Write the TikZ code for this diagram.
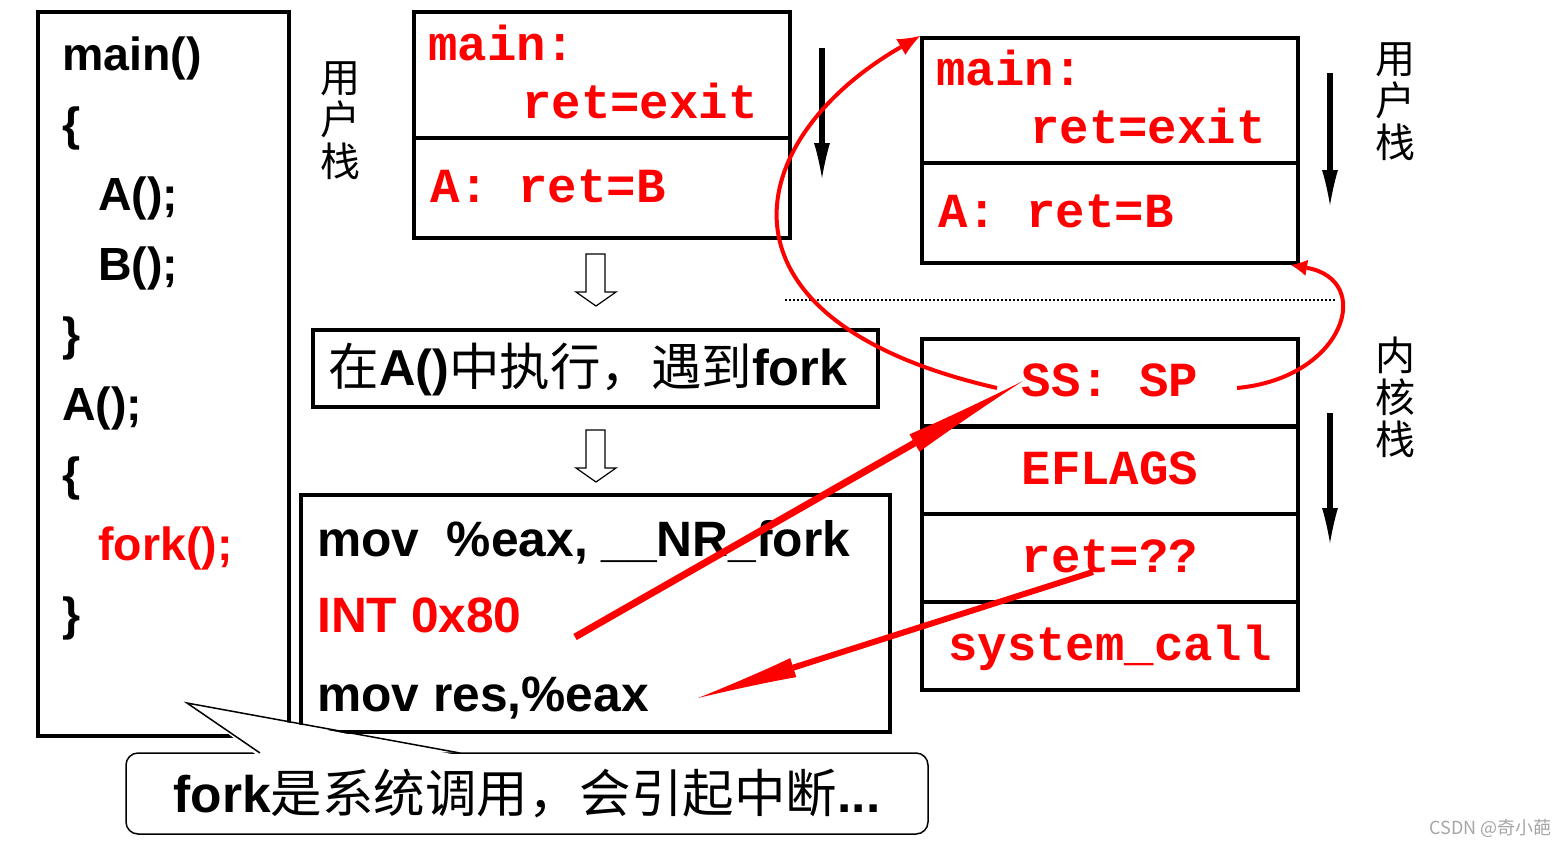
\documentclass[tikz,border=0pt]{standalone}
\usepackage{fontspec}
\setmainfont{Liberation Sans}
\newfontfamily\cjk{Noto Sans CJK SC}
\newfontfamily\monob{Liberation Mono}
\usepackage{tikz}
\usetikzlibrary{arrows.meta,positioning,calc}

\begin{document}
\begin{tikzpicture}[x=1pt, y=-1pt, every node/.style={inner sep=0pt},
  frame/.style={draw, line width=4pt},
  cell/.style={draw, line width=4pt, minimum width=376pt},
  src/.style={anchor=base west, font=\fontsize{46.5}{50}\selectfont\bfseries},
  asm/.style={anchor=base west, font=\fontsize{49.7}{55}\selectfont\bfseries},
  stk/.style={text=red, font=\fontsize{49}{55}\selectfont\monob\bfseries},
  vlabel/.style={align=center, font=\fontsize{40}{42}\selectfont\cjk},
  push/.style={line width=6pt, -{Latex[length=35pt,width=16pt,line width=0pt]}},
  hollow/.style={draw, line width=1.2pt, fill=white}]
\path[use as bounding box, fill=white] (0,0) rectangle (1568,846);

% source program
\node[frame, minimum width=251pt, minimum height=724pt] (prog) at (163.5,374) {};
\foreach \name/\x/\y/\txt in {l1/62/70/main(), l2/62/140/\{, l3/98/210/A();, l4/98/280/B();, l5/62/350/\}, l6/62/420/A();, l7/62/490/\{, l9/62/630/\}} {
  \node[src] (\name) at (\x,\y) {\txt};
}
\node[src, text=red] (l8) at (98,560) {fork();};

% user stack, left copy
\node[cell, minimum height=126pt] (umain) at (602,75) {};
\node[cell, minimum height=100pt] (ua) at (602,188) {};
\node[stk, anchor=base west] (umtxt) at (428,60) {main:};
\node[stk, anchor=base west] (urtxt) at (522,118) {ret=exit};
\node[stk, anchor=base west] (uatxt) at (430,202) {A: ret=B};
\node[vlabel] (ulab1) at (340,121) {用\\户\\栈};

% user stack, right copy
\node[cell, minimum height=125pt] (rmain) at (1110,100.5) {};
\node[cell, minimum height=100pt] (ra) at (1110,213) {};
\node[stk, anchor=base west] (rmtxt) at (936,85) {main:};
\node[stk, anchor=base west] (rrtxt) at (1030,143) {ret=exit};
\node[stk, anchor=base west] (ratxt) at (938,227) {A: ret=B};
\node[vlabel] (ulab2) at (1395,102) {用\\户\\栈};

% kernel stack
\foreach \name/\y/\txt in {kss/382.5/{SS: SP}, kfl/470/EFLAGS, kret/558/{ret=??}, ksys/646/system\_call} {
  \node[cell, minimum height=88pt, stk, text height=28pt, text depth=0pt] (\name) at (1110,\y) {\txt};
}
\node[vlabel] (klab) at (1395,397) {内\\核\\栈};

% stack growth
\foreach \n/\x/\ya/\yb in {d1/822/48/178, d2/1330/73/205, d3/1330/413/543} {
  \coordinate (\n-s) at (\x,\ya);
  \coordinate (\n-e) at (\x,\yb);
  \draw[push] (\n-s) -- (\n-e);
}
\coordinate (sepL) at (785,300);
\coordinate (sepR) at (1335,300);
\draw[dash pattern=on 1.5pt off 2.5pt, line width=1.5pt] (sepL) -- (sepR);

% steps
\foreach \y in {254, 430} {
  \draw[hollow] (586,\y) -- (605,\y) -- (605,\y+38) -- (616,\y+38) -- (596,\y+52) -- (576,\y+38) -- (586,\y+38) -- cycle;
}
\node[draw, line width=4pt, minimum width=565pt, minimum height=77pt] (exec) at (595.5,368.5) {};
\node[font=\fontsize{50.5}{55}\selectfont\cjk] (exectxt) at (588,369) {在{\rmfamily\bfseries A()}中执行，遇到{\rmfamily\bfseries fork}};
\node[frame, minimum width=589pt, minimum height=237pt] (code) at (595.5,613.5) {};
\node[asm] (mov1) at (317,556) {mov\ \ \%eax, \_\_NR\_fork};
\node[asm, text=red] (int) at (317,632) {INT 0x80};
\node[asm] (mov2) at (317,711) {mov res,\%eax};

% callout
\node[draw, line width=1.5pt, rounded corners=12pt, fill=white, minimum width=802pt, minimum height=81pt, font=\fontsize{51.5}{55}\selectfont\cjk] (note) at (527,793.5) {{\rmfamily\bfseries fork}是系统调用，会引起中断{\rmfamily\bfseries ...}};
\coordinate (tail) at (187,703);
\coordinate (tailA) at (260,753);
\coordinate (tailB) at (460,753);
\fill[white] ($(tailA)+(-2,3)$) -- (tail) -- ($(tailB)+(2,3)$) -- cycle;
\draw[line width=1.5pt] (tailA) -- (tail) -- (tailB);

% interrupt flow
\coordinate (ssL) at (997,388);
\coordinate (ssR) at (1237,388);
\coordinate (intR) at (575,637);
\coordinate (ssTip) at (1023,381);
\coordinate (retL) at (1093,572);
\coordinate (movTip) at (698,698);
\draw[red, line width=4pt, -{Latex[length=22pt,width=18pt,line width=0pt]}] (ssL) .. controls (700,320) and (740,140) .. (rmain.north west);
\draw[red, line width=4pt, -{Latex[length=16pt,width=16pt,line width=0pt]}] (ssR) .. controls (1345,378) and (1375,280) .. ([xshift=-9pt]ra.south east);
\draw[red, line width=7pt, -{Latex[length=125pt,width=20pt,line width=0pt]}] (intR) -- (ssTip);
\draw[red, line width=6pt, -{Latex[length=100pt,width=20pt,line width=0pt]}] (retL) -- (movTip);

\node[font=\fontsize{18}{20}\selectfont\cjk, text=gray!70, anchor=east] (mark) at (1552,828) {CSDN @奇小葩};
\end{tikzpicture}
\end{document}
